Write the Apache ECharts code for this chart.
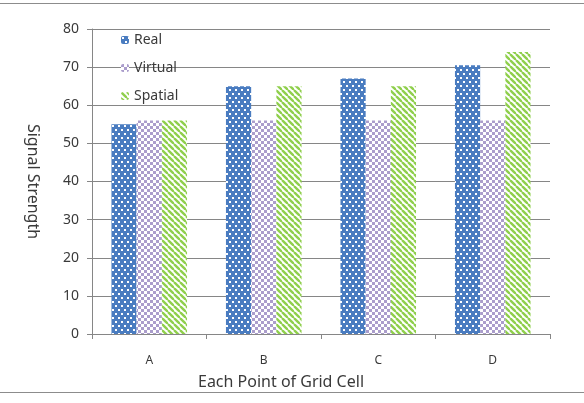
<!DOCTYPE html>
<html>
<head>
<meta charset="utf-8">
<script src="https://cdn.jsdelivr.net/npm/echarts@6/dist/echarts.min.js"></script>
<style>
  html, body { margin: 0; padding: 0; background: #fff; }
  #chart { width: 584px; height: 403px; }
</style>
</head>
<body>
<div id="chart"></div>
<script>
const categories = ["A", "B", "C", "D"];
const realValues = [55, 65, 67, 70.5];
const virtualValues = [56, 56, 56, 56];
const spatialValues = [56, 65, 65, 74];
const yTicks = [0, 10, 20, 30, 40, 50, 60, 70, 80];

// small canvas fills to mimic the Excel pattern fills
function dotPattern() {
  const c = document.createElement("canvas");
  c.width = 6; c.height = 8;
  const g = c.getContext("2d");
  g.fillStyle = "#4a7cc0";
  g.fillRect(0, 0, 6, 8);
  g.fillStyle = "#ffffff";
  g.fillRect(1, 1, 2, 2);
  g.fillRect(4, 5, 2, 2);
  return c;
}
function checkPattern() {
  const c = document.createElement("canvas");
  c.width = 6; c.height = 6;
  const g = c.getContext("2d");
  g.fillStyle = "#ffffff";
  g.fillRect(0, 0, 6, 6);
  g.fillStyle = "#ab9dcc";
  g.fillRect(0, 0, 3, 3);
  g.fillRect(3, 3, 3, 3);
  return c;
}
function stripePattern() {
  const c = document.createElement("canvas");
  c.width = 6; c.height = 6;
  const g = c.getContext("2d");
  g.fillStyle = "#ffffff";
  g.fillRect(0, 0, 6, 6);
  g.strokeStyle = "#8fcf4c";
  g.lineWidth = 2.4;
  for (let k = -6; k <= 12; k += 6) {
    g.beginPath();
    g.moveTo(k, 0);
    g.lineTo(k + 6, 6);
    g.stroke();
  }
  return c;
}

const fills = [
  {image: dotPattern(), repeat: "repeat"},
  {image: checkPattern(), repeat: "repeat"},
  {image: stripePattern(), repeat: "repeat"}
];

const font = "'Noto Sans', 'Open Sans', sans-serif";
const chart = echarts.init(document.getElementById("chart"));

chart.setOption({
  animation: false,
  textStyle: {fontFamily: font},
  graphic: [
    {type: "line", shape: {x1: 0, y1: 3.5, x2: 584, y2: 3.5}, style: {stroke: "#8c8c8c", lineWidth: 1}},
    {type: "line", shape: {x1: 0, y1: 392.5, x2: 584, y2: 392.5}, style: {stroke: "#8c8c8c", lineWidth: 1}}
  ],
  legend: {
    orient: "vertical",
    left: 116,
    top: 28,
    itemGap: 14,
    itemWidth: 8,
    itemHeight: 8,
    textStyle: {color: "#3a3a3a", fontSize: 14, fontFamily: font},
    data: ["Real", "Virtual", "Spatial"]
  },
  grid: {left: 92, right: 34, top: 29, bottom: 69},
  xAxis: {
    type: "category",
    data: categories,
    name: "Each Point of Grid Cell",
    nameLocation: "middle",
    nameGap: 40,
    nameTextStyle: {color: "#3a3a3a", fontSize: 16, padding: [0, 80, 0, 0]},
    axisLine: {lineStyle: {color: "#868686"}},
    axisTick: {show: true, length: 5, lineStyle: {color: "#868686"}},
    axisLabel: {color: "#3a3a3a", fontSize: 12, margin: 21}
  },
  yAxis: {
    type: "value",
    min: yTicks[0],
    max: yTicks[yTicks.length - 1],
    interval: 10,
    name: "Signal Strength",
    nameLocation: "middle",
    nameGap: 51,
    nameRotate: -90,
    nameTextStyle: {color: "#3a3a3a", fontSize: 16},
    axisLine: {show: true, lineStyle: {color: "#868686"}},
    axisTick: {show: true, length: 5, lineStyle: {color: "#868686"}},
    axisLabel: {color: "#3a3a3a", fontSize: 14, margin: 13},
    splitLine: {lineStyle: {color: "#868686"}}
  },
  series: [
    {name: "Real", type: "bar", data: realValues, barGap: "0%", barCategoryGap: "34%", itemStyle: {color: fills[0]}},
    {name: "Virtual", type: "bar", data: virtualValues, itemStyle: {color: fills[1]}},
    {name: "Spatial", type: "bar", data: spatialValues, itemStyle: {color: fills[2]}}
  ]
});
</script>
</body>
</html>
